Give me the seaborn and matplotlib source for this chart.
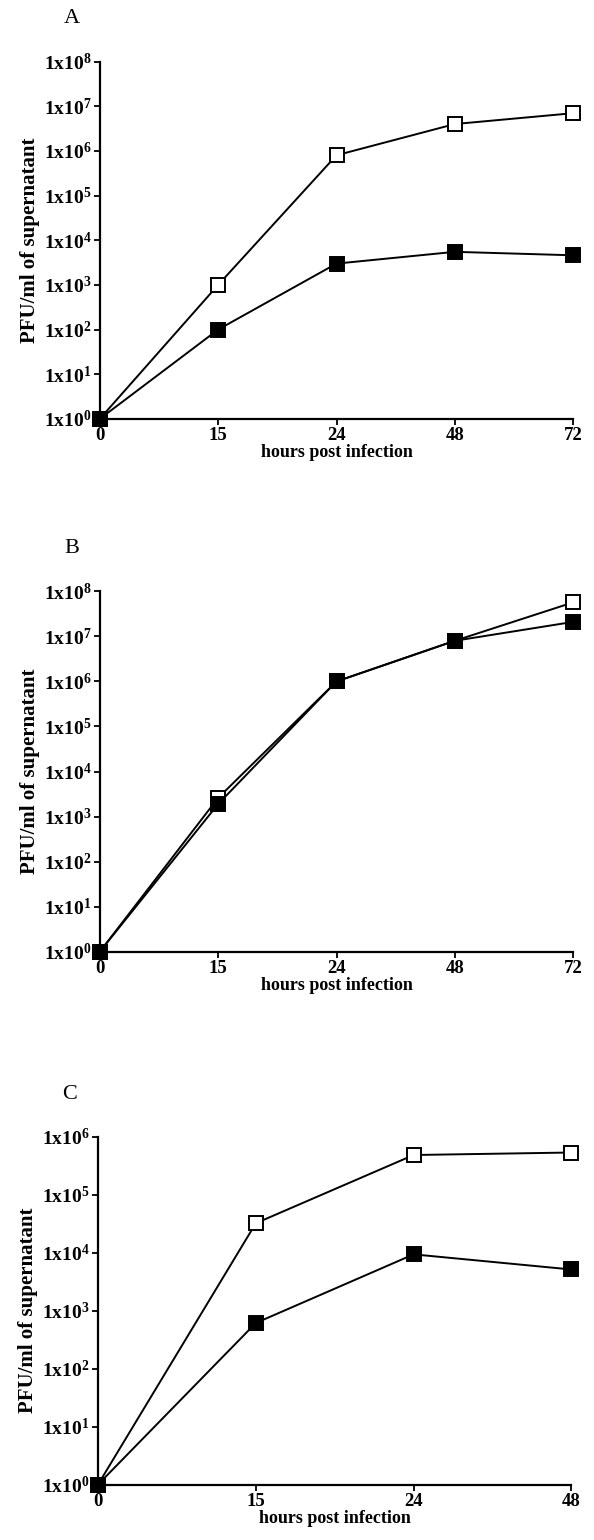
"""
Three-panel virus growth curves (PFU/ml over time), log y axis.
"""
import matplotlib
matplotlib.use("Agg")
import matplotlib.pyplot as plt
import pandas as pd
import seaborn as sns

sns.set_theme(style="ticks")
plt.rcParams["font.family"] = ["Liberation Serif", "DejaVu Serif"]
plt.rcParams["mathtext.fontset"] = "custom"
plt.rcParams["mathtext.rm"] = "Liberation Serif"
plt.rcParams["mathtext.bf"] = "Liberation Serif:bold"
plt.rcParams["text.color"] = "black"
plt.rcParams["axes.labelcolor"] = "black"
plt.rcParams["xtick.color"] = "black"
plt.rcParams["ytick.color"] = "black"

# panel A
hours_a = ["0", "15", "24", "48", "72"]
open_a = [1, 1e3, 8e5, 4e6, 7e6]
filled_a = [1, 1e2, 3e3, 5.5e3, 4.6e3]

# panel B
hours_b = ["0", "15", "24", "48", "72"]
open_b = [1, 2.6e3, 1e6, 8e6, 5.7e7]
filled_b = [1, 1.9e3, 1e6, 8e6, 2.1e7]

# panel C
hours_c = ["0", "15", "24", "48"]
open_c = [1, 3.2e4, 4.8e5, 5.3e5]
filled_c = [1, 6.1e2, 9.3e3, 5.1e3]

Y_LABEL = "PFU/ml of supernatant"
X_LABEL = "hours post infection"


def draw_panel(ax, letter, hours, open_vals, filled_vals, top_exp):
    """draw one growth curve panel"""
    df = pd.DataFrame({
        "pos": list(range(len(hours))) * 2,
        "pfu": open_vals + filled_vals,
        "series": ["open"] * len(hours) + ["filled"] * len(hours),
    })
    for name, face in [("open", "white"), ("filled", "black")]:
        sub = df[df.series == name]
        sns.lineplot(data=sub, x="pos", y="pfu", ax=ax, color="black",
                     linewidth=1.4, marker="s", markersize=9.5,
                     markerfacecolor=face, markeredgecolor="black",
                     markeredgewidth=1.4, clip_on=False, zorder=3,
                     legend=False)
    ax.set_yscale("log")
    ax.set_ylim(1, 10 ** top_exp)
    ax.set_xlim(0, len(hours) - 1)
    ticks = [10 ** e for e in range(top_exp + 1)]
    ax.set_yticks(ticks)
    ax.set_yticklabels([r"$\mathbf{1x10^{%d}}$" % e for e in range(top_exp + 1)],
                       fontsize=14)
    ax.minorticks_off()
    ax.set_xticks(range(len(hours)))
    ax.set_xticklabels(hours, fontsize=13.5, fontweight="bold")
    ax.tick_params(direction="out", length=4, width=1.3, color="black",
                   pad=2)
    ax.set_ylabel(Y_LABEL, fontsize=15, fontweight="bold", labelpad=3)
    ax.set_xlabel(X_LABEL, fontsize=13, fontweight="bold", labelpad=0)
    for side in ["top", "right"]:
        ax.spines[side].set_visible(False)
    for side in ["left", "bottom"]:
        ax.spines[side].set_linewidth(1.6)
        ax.spines[side].set_color("black")
    ax.text(-0.06, 1.12, letter, transform=ax.transAxes, fontsize=16,
            ha="center", va="center")


fig = plt.figure(figsize=(5.94, 15.4), dpi=100)
ax_a = fig.add_axes([0.168, 0.728, 0.797, 0.232])
ax_b = fig.add_axes([0.168, 0.382, 0.797, 0.234])
ax_c = fig.add_axes([0.165, 0.036, 0.797, 0.226])

draw_panel(ax_a, "A", hours_a, open_a, filled_a, 8)
draw_panel(ax_b, "B", hours_b, open_b, filled_b, 8)
draw_panel(ax_c, "C", hours_c, open_c, filled_c, 6)

fig.savefig("out.png", dpi=100, facecolor="white")
